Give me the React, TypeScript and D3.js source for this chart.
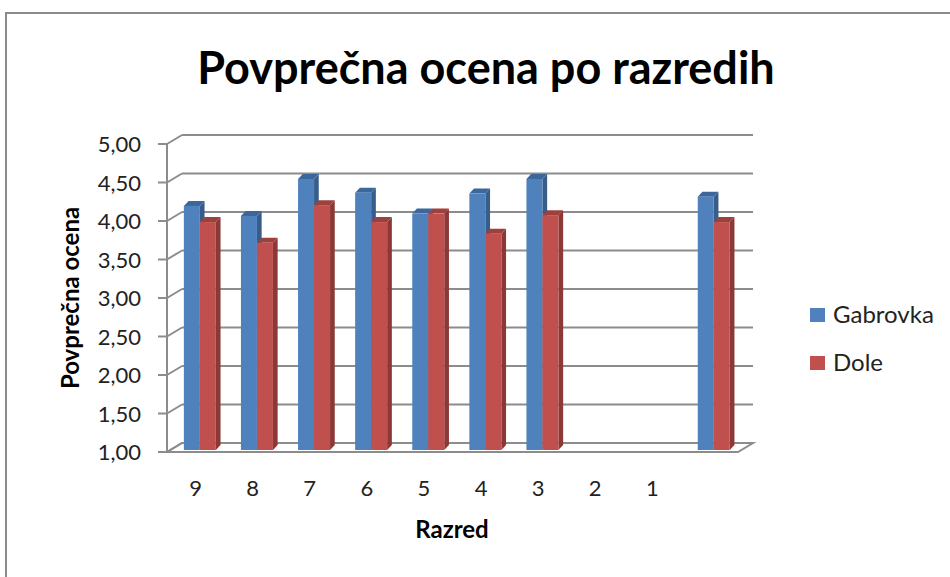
import React from "react";
import * as d3 from "d3";

const categories = ["9", "8", "7", "6", "5", "4", "3", "2", "1", ""];
const gabrovka: (number | null)[] = [4.17, 4.04, 4.52, 4.34, 4.07, 4.33, 4.52, null, null, 4.29];
const dole: (number | null)[] = [3.96, 3.69, 4.18, 3.96, 4.07, 3.81, 4.05, null, null, 3.96];
const yTicks = [1, 1.5, 2, 2.5, 3, 3.5, 4, 4.5, 5];
const seriesNames = ["Gabrovka", "Dole"];

const W = 950;
const H = 577;
const FONT = "Lato, 'Open Sans', sans-serif";

const colors = [
  { front: "#4F81BD", side: "#385D8A", top: "#3C679B" },
  { front: "#C0504D", side: "#8C3836", top: "#9E403D" },
];

export default function App() {
  const x0 = 167, x1 = 738;
  const depthX = 15, depthY = -9;
  const y = d3.scaleLinear().domain([1, 5]).range([452, 144]);
  const xb = d3.scaleBand<number>().domain(d3.range(categories.length)).range([x0, x1]).paddingInner(0).paddingOuter(0);
  const bw = 16;
  const fx = 4.3, fy = -2; // bar front face offset
  const bx = 9, by = -7; // bar back face offset
  const fmt = (v: number) => d3.format(".2f")(v).replace(".", ",");
  const series = [gabrovka, dole];

  const bars: React.ReactNode[] = [];
  categories.forEach((c, i) => {
    const cx = xb(i)! + xb.bandwidth() / 2;
    series.forEach((s, si) => {
      const v = s[i];
      if (v == null) return;
      const left = cx - bw + si * bw + fx;
      const right = left + bw;
      const top = y(v) + fy;
      const bottom = y(1) + fy;
      const col = colors[si];
      const dx = bx - fx, dy = by - fy;
      bars.push(
        <g key={`${i}-${si}`}>
          <polygon points={`${right},${top} ${right + dx},${top + dy} ${right + dx},${bottom + dy} ${right},${bottom}`} fill={col.side} />
          <polygon points={`${left},${top} ${left + dx},${top + dy} ${right + dx},${top + dy} ${right},${top}`} fill={col.top} />
          <rect x={left} y={top} width={bw} height={bottom - top} fill={col.front} />
        </g>
      );
    });
  });

  const gridColor = "#8C8C8C";

  return (
    <svg width={W} height={H} style={{ position: "absolute", left: 0, top: 0, background: "#fff" }}>
      <rect x={0} y={0} width={W} height={H} fill="#fff" />
      <rect x={6} y={13} width={W + 20} height={H + 20} fill="none" stroke="#8A8A8A" strokeWidth={2} />
      <text x={486} y={84} textAnchor="middle" fontFamily={FONT} fontWeight="bold" fontSize={45} fill="#000">
        Povprečna ocena po razredih
      </text>

      {/* floor */}
      <polygon
        points={`${x0},${y(1)} ${x1},${y(1)} ${x1 + depthX},${y(1) + depthY} ${x0 + depthX},${y(1) + depthY}`}
        fill="#fff" stroke={gridColor} strokeWidth={2}
      />
      {/* gridlines */}
      {yTicks.map((t) => (
        <g key={t}>
          <line x1={x0 + depthX} x2={x1 + depthX} y1={y(t) + depthY} y2={y(t) + depthY} stroke={gridColor} strokeWidth={2} />
          <line x1={x0} x2={x0 + depthX} y1={y(t)} y2={y(t) + depthY} stroke={gridColor} strokeWidth={2} />
          <line x1={x0 - 9} x2={x0} y1={y(t)} y2={y(t)} stroke={gridColor} strokeWidth={2} />
          <text x={141} y={y(t) + 8} textAnchor="end" fontFamily={FONT} fontSize={22} fill="#222">
            {fmt(t)}
          </text>
        </g>
      ))}
      <line x1={x0} x2={x0} y1={y(5)} y2={y(1)} stroke={gridColor} strokeWidth={2} />

      {bars}

      {categories.map((c, i) => (
        <text key={i} x={xb(i)! + xb.bandwidth() / 2} y={496} textAnchor="middle" fontFamily={FONT} fontSize={22} fill="#222">
          {c}
        </text>
      ))}

      <text x={452} y={538} textAnchor="middle" fontFamily={FONT} fontWeight="bold" fontSize={24} fill="#000">
        Razred
      </text>
      <text transform={`translate(79,298) rotate(-90)`} textAnchor="middle" fontFamily={FONT} fontWeight="bold" fontSize={24} fill="#000">
        Povprečna ocena
      </text>

      {seriesNames.map((n, i) => (
        <g key={n}>
          <rect x={810} y={308 + i * 48} width={15} height={14} fill={colors[i].front} />
          <text x={833} y={323 + i * 48} fontFamily={FONT} fontSize={24} fill="#222">
            {n}
          </text>
        </g>
      ))}
    </svg>
  );
}
